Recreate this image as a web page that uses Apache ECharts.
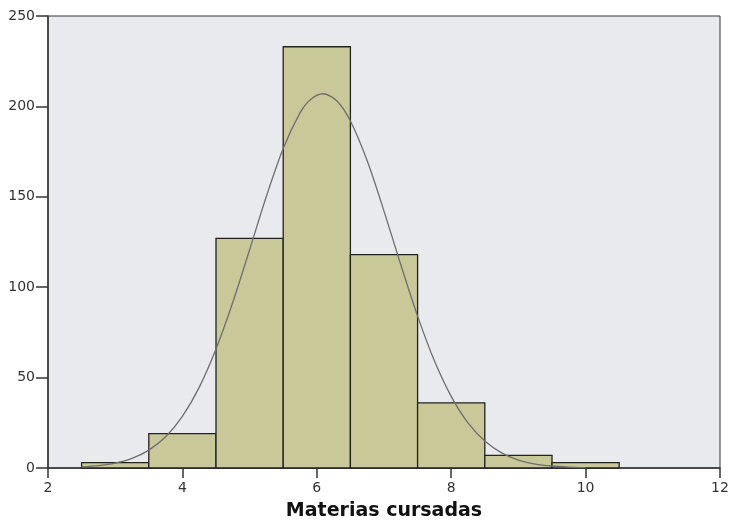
<!DOCTYPE html>
<html>
<head>
<meta charset="utf-8">
<script src="https://cdn.jsdelivr.net/npm/echarts@6/dist/echarts.min.js"></script>
<style>html,body{margin:0;padding:0;background:#fff;}#c{width:730px;height:521px;}</style>
</head>
<body>
<div id="c"></div>
<script>
// Histogram bins (centers), counts
var binCenters = [3, 4, 5, 6, 7, 8, 9, 10];
var counts = [3, 19, 127, 233, 118, 36, 7, 3];
var binWidth = 1;
// Normal curve points
var curveX = [2.5, 2.75, 3, 3.25, 3.5, 3.75, 4, 4.25, 4.5, 4.75, 5, 5.25, 5.5, 5.75, 5.9, 6.09, 6.3, 6.5, 6.75, 7, 7.25, 7.5, 7.75, 8, 8.25, 8.5, 8.75, 9, 9.25, 9.5, 9.75, 10];
var curveY = [0.6, 1.3, 2.7, 5.3, 9.9, 17.3, 28.6, 44.6, 65.8, 91.7, 120.7, 150.3, 176.7, 196.4, 203.6, 207.0, 203.0, 191.9, 169.9, 142.1, 112.4, 84.0, 59.3, 39.6, 24.9, 14.9, 8.4, 4.4, 2.2, 1.1, 0.5, 0.2];
var xTicks = [2, 4, 6, 8, 10, 12];
var yTicks = [0, 50, 100, 150, 200, 250];

var barData = binCenters.map(function (c, i) { return [c - binWidth / 2, c + binWidth / 2, counts[i]]; });
var lineData = curveX.map(function (x, i) { return [x, curveY[i]]; });

var chart = echarts.init(document.getElementById('c'));
chart.setOption({
  animation: false,
  grid: { left: 48, right: 10, top: 16, bottom: 53, outerBoundsMode: 'none', containLabel: false, show: true, backgroundColor: '#e9eaee', borderColor: '#333', borderWidth: 1 },
  xAxis: {
    type: 'value', min: xTicks[0], max: xTicks[xTicks.length - 1], interval: 2,
    name: 'Materias cursadas', nameLocation: 'middle', nameGap: 34,
    nameTextStyle: { fontFamily: 'DejaVu Sans', fontSize: 19, fontWeight: 'bold', color: '#111' },
    axisLine: { lineStyle: { color: '#333', width: 1.5 } },
    axisTick: { lineStyle: { color: '#333', width: 1.5 }, length: 10 },
    axisLabel: { fontFamily: 'DejaVu Sans', fontSize: 14, color: '#333', margin: 13 },
    splitLine: { show: false }
  },
  yAxis: {
    type: 'value', min: yTicks[0], max: yTicks[yTicks.length - 1], interval: 50,
    axisLine: { show: true, lineStyle: { color: '#333', width: 1.5 } },
    axisTick: { show: true, lineStyle: { color: '#333', width: 1.5 }, length: 12 },
    axisLabel: { fontFamily: 'DejaVu Sans', fontSize: 14, color: '#333', margin: 13 },
    splitLine: { show: false }
  },
  series: [
    {
      type: 'custom',
      data: barData,
      encode: { x: [0, 1], y: 2 },
      renderItem: function (params, api) {
        var p0 = api.coord([api.value(0), api.value(2)]);
        var p1 = api.coord([api.value(1), 0]);
        return {
          type: 'rect',
          shape: { x: p0[0], y: p0[1], width: p1[0] - p0[0], height: p1[1] - p0[1] },
          style: { fill: '#c9c899', stroke: '#222', lineWidth: 1.3 }
        };
      },
      z: 2
    },
    {
      type: 'line',
      data: lineData,
      smooth: 0.3,
      showSymbol: false,
      lineStyle: { color: '#6e6e6e', width: 1.3 },
      z: 3
    }
  ]
});
</script>
</body>
</html>
